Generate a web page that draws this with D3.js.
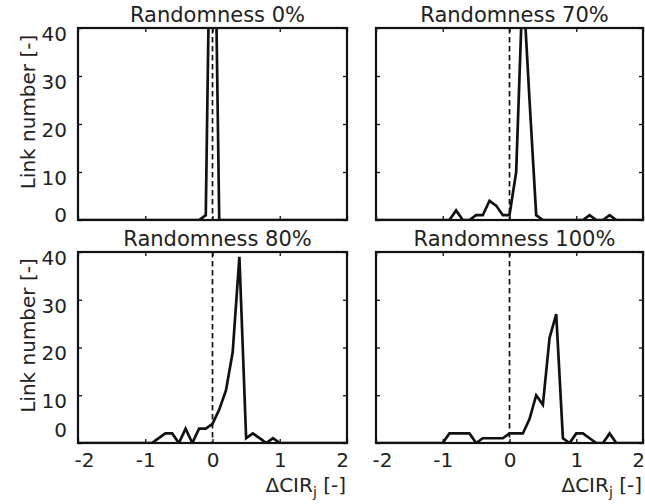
<!DOCTYPE html>
<html>
<head>
<meta charset="utf-8">
<script src="https://cdn.jsdelivr.net/npm/d3@7"></script>
<style>
body { margin:0; background:#fff; }
text { font-family:"DejaVu Sans", Verdana, sans-serif; fill:#222; }
</style>
</head>
<body>
<script>
// bin centres of the histogram (delta CIR)
var BINS = [-2.0,-1.9,-1.8,-1.7,-1.6,-1.5,-1.4,-1.3,-1.2,-1.1,
  -1.0,-0.9,-0.8,-0.7,-0.6,-0.5,-0.4,-0.3,-0.2,-0.1,
  0.0,0.1,0.2,0.3,0.4,0.5,0.6,0.7,0.8,0.9,
  1.0,1.1,1.2,1.3,1.4,1.5,1.6,1.7,1.8,1.9,2.0];

var TITLES = ["Randomness 0%", "Randomness 70%", "Randomness 80%", "Randomness 100%"];

var R0   = [0,0,0,0,0,0,0,0,0,0, 0,0,0,0,0,0,0,0,0,1, 100,0,0,0,0,0,0,0,0,0, 0,0,0,0,0,0,0,0,0,0, 0];
var R70  = [0,0,0,0,0,0,0,0,0,0, 0,0,2,0,0,1,1,4,3,1, 1,10,50,25,1,0,0,0,0,0, 0,0,1,0,0,1,0,0,0,0, 0];
var R80  = [0,0,0,0,0,0,0,0,0,0, 0,0,1,2,2,0,3,0,3,3, 4,7,11,19,39,1,2,1,0,1, 0,0,0,0,0,0,0,0,0,0, 0];
var R100 = [0,0,0,0,0,0,0,0,0,0, 0,2,2,2,2,0,1,1,1,1, 2,2,2,5,10,8,22,27,1,0, 2,2,1,0,0,2,0,0,0,0, 0];

var SERIES = [R0, R70, R80, R100];
var XTICKS = [-2, -1, 0, 1, 2];
var YTICKS = [0, 10, 20, 30, 40];

var W = 645, H = 504;
// panel boxes: [left, right] columns and [top, bottom] rows
var COLS = [[78, 347], [376, 643]];
var ROWS = [[28, 220], [252, 443]];

var svg = d3.select("body").append("svg")
  .attr("width", W)
  .attr("height", H);

function plain(d) { return String(d); }

function drawPanel(i) {
  var col = i % 2, row = Math.floor(i / 2);
  var x0 = COLS[col][0], x1 = COLS[col][1], y0 = ROWS[row][0], y1 = ROWS[row][1];
  var w = x1 - x0, h = y1 - y0;

  var x = d3.scaleLinear().domain([-2, 2]).range([0, w]);
  var y = d3.scaleLinear().domain([0, 40]).range([h, 0]);

  var g = svg.append("g").attr("transform", "translate(" + x0 + "," + y0 + ")");

  g.append("clipPath").attr("id", "clip" + i)
    .append("rect").attr("width", w).attr("height", h);

  // zero reference
  g.append("line")
    .attr("x1", x(0)).attr("x2", x(0))
    .attr("y1", 0).attr("y2", h)
    .attr("stroke", "#111").attr("stroke-width", 1.7)
    .attr("stroke-dasharray", "5.5,3.5");

  var pts = BINS.map(function (b, j) { return [b, SERIES[i][j]]; });
  var line = d3.line()
    .x(function (d) { return x(d[0]); })
    .y(function (d) { return y(d[1]); });

  g.append("path")
    .datum(pts)
    .attr("clip-path", "url(#clip" + i + ")")
    .attr("d", line)
    .attr("fill", "none")
    .attr("stroke", "#111")
    .attr("stroke-width", 2.7)
    .attr("stroke-linejoin", "miter");

  // inward ticks on all four sides
  var ax = [
    d3.axisBottom(x).tickValues(XTICKS).tickSize(-4).tickPadding(10).tickFormat(plain),
    d3.axisTop(x).tickValues(XTICKS).tickSize(-4).tickFormat(""),
    d3.axisLeft(y).tickValues(YTICKS).tickSize(-4).tickPadding(11).tickFormat(plain),
    d3.axisRight(y).tickValues(YTICKS).tickSize(-4).tickFormat("")
  ];
  var pos = ["translate(0," + h + ")", "translate(0,0)", "translate(0,0)", "translate(" + w + ",0)"];
  for (var k = 0; k < 4; k++) {
    var a = g.append("g").attr("transform", pos[k]).call(ax[k]);
    a.select(".domain").remove();
    a.selectAll(".tick line").attr("stroke", "#111").attr("stroke-width", 1.3);
    a.selectAll("text").attr("font-size", 20).attr("font-family", null).attr("fill", "#222");
    if (k == 0) {
      if (row == 0) a.selectAll("text").remove();
      a.selectAll("text").attr("dx", function (d) { return d == -2 ? 6 : (d == 2 ? -5 : 0); });
    }
    if (k == 2) {
      if (col == 1) a.selectAll("text").remove();
      // labels sit a bit low, the zero one is lifted off the corner
      a.selectAll("text").attr("transform", function (d) {
        return "translate(0," + (d == 0 ? (row == 0 ? -5 : -13) : 6) + ")";
      });
    }
  }

  g.append("rect")
    .attr("width", w).attr("height", h)
    .attr("fill", "none").attr("stroke", "#111").attr("stroke-width", 2.2);

  g.append("text")
    .attr("x", w / 2 + 5).attr("y", -6)
    .attr("text-anchor", "middle")
    .attr("font-size", 21)
    .text(TITLES[i]);

  if (col == 0) {
    g.append("text")
      .attr("transform", "translate(-43," + (h / 2 - 12) + ") rotate(-90)")
      .attr("text-anchor", "middle")
      .attr("font-size", 20)
      .text("Link number [-]");
  }
  if (row == 1) {
    var t = g.append("text")
      .attr("x", w - 1).attr("y", h + 49)
      .attr("text-anchor", "end")
      .attr("font-size", 20);
    t.append("tspan").text("\u0394CIR");
    t.append("tspan").attr("font-size", 14).attr("dy", 5).text("j");
    t.append("tspan").attr("dy", -5).text(" [-]");
  }
}

for (var i = 0; i < 4; i++) drawPanel(i);
</script>
</body>
</html>
